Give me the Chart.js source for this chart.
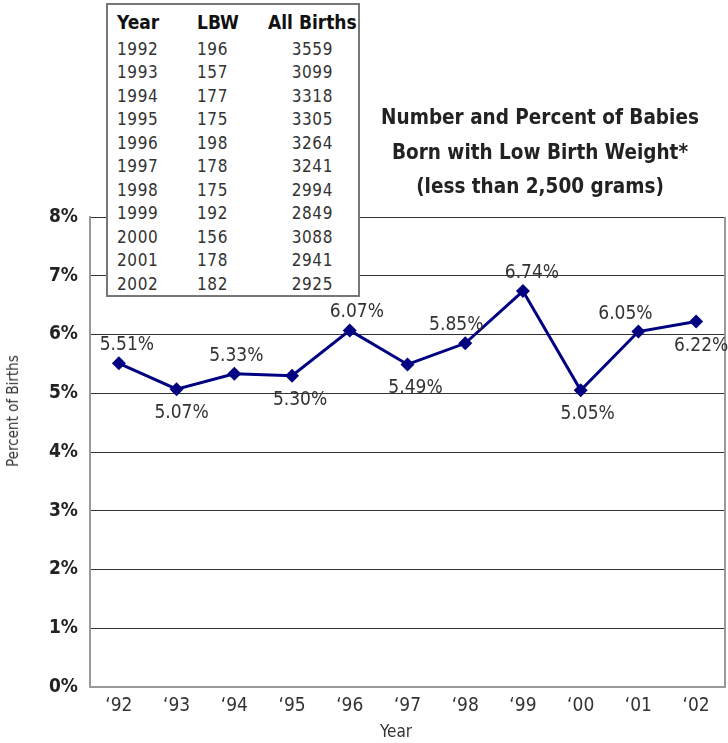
<!DOCTYPE html>
<html>
<head>
<meta charset="utf-8">
<script src="https://cdn.jsdelivr.net/npm/chart.js@4.4.1/dist/chart.umd.min.js"></script>
<style>
  body { margin: 0; background: #fff; }
  #wrap { position: relative; width: 728px; height: 743px; font-family: 'Liberation Sans Narrow', 'DejaVu Sans Condensed', sans-serif; color: #222; }
  #chart { position: absolute; left: 0; top: 0; }
  #dataTable { position: absolute; left: 106px; top: 3px; width: 254px; height: 294px; box-sizing: border-box; border: 2px solid #777; background: #fff; }
  #dataTable table { border-collapse: collapse; margin: 1px 0 0 9px; }
  #dataTable th { font-weight: bold; font-size: 19px; height: 31px; padding: 0; text-align: left; color: #111; white-space: nowrap; }
  #dataTable td { font-size: 17px; letter-spacing: 0.6px; height: 23.5px; padding: 0; line-height: 20px; color: #333; }
  #title { position: absolute; left: 360px; top: 100px; width: 360px; text-align: center; font-weight: bold; font-size: 20.5px; line-height: 34.5px; color: #222; }
  #yTitle { position: absolute; left: 13px; top: 411px; transform: translate(-50%, -50%) rotate(-90deg); font-size: 15px; white-space: nowrap; color: #333; }
  #xTitle { position: absolute; left: 396px; top: 731px; transform: translate(-50%, -50%); font-size: 17px; color: #333; }
</style>
</head>
<body>
<div id="wrap">
  <canvas id="chart" width="728" height="743"></canvas>
  <div id="dataTable"><table id="tbl"></table></div>
  <div id="title">Number and Percent of Babies<br>Born with Low Birth Weight*<br>(less than 2,500 grams)</div>
  <div id="yTitle">Percent of Births</div>
  <div id="xTitle">Year</div>
</div>
<script>
'use strict';

// chart data
let yearLabels = ['‘92', '‘93', '‘94', '‘95', '‘96', '‘97', '‘98', '‘99', '‘00', '‘01', '‘02'];
let percentLbw = [5.51, 5.07, 5.33, 5.30, 6.07, 5.49, 5.85, 6.74, 5.05, 6.05, 6.22];

// table data
let tableYears = [1992, 1993, 1994, 1995, 1996, 1997, 1998, 1999, 2000, 2001, 2002];
let lbwCounts = [196, 157, 177, 175, 198, 178, 175, 192, 156, 178, 182];
let allBirths = [3559, 3099, 3318, 3305, 3264, 3241, 2994, 2849, 3088, 2941, 2925];

// where each value label sits
let labelSide = ['up', 'down', 'up', 'down', 'up', 'down', 'up', 'up', 'down', 'up', 'down'];
let labelShift = [8, 5, 2, 8, 7, 8, -9, 9, 7, -13, 5];

const FONT = "'Liberation Sans Narrow', 'DejaVu Sans Condensed', sans-serif";

// build the little table
let tbl = document.getElementById('tbl');
let head = '<tr><th style="width:80px">Year</th><th style="width:71px">LBW</th><th style="width:88px;text-align:center">All Births</th></tr>';
let rows = '';
for (let i = 0; i < tableYears.length; i++) {
  rows += '<tr><td>' + tableYears[i] + '</td><td>' + lbwCounts[i] + '</td><td style="text-align:center">' + allBirths[i] + '</td></tr>';
}
tbl.innerHTML = head + rows;

// value labels + right border of the plot
let valueLabels = {
  id: 'valueLabels',
  afterDatasetsDraw(chart) {
    let ctx = chart.ctx;
    let area = chart.chartArea;
    ctx.save();
    ctx.strokeStyle = '#999';
    ctx.lineWidth = 2;
    ctx.beginPath();
    ctx.moveTo(area.right, area.top);
    ctx.lineTo(area.right, area.bottom);
    ctx.stroke();

    ctx.font = '19px ' + FONT;
    ctx.fillStyle = '#333';
    ctx.textAlign = 'center';
    ctx.textBaseline = 'middle';
    let meta = chart.getDatasetMeta(0);
    meta.data.forEach(function (pt, i) {
      let dy = labelSide[i] === 'up' ? -18 : 24;
      ctx.fillText(percentLbw[i].toFixed(2) + '%', pt.x + labelShift[i], pt.y + dy);
    });
    ctx.restore();
  }
};

let ctx = document.getElementById('chart').getContext('2d');

new Chart(ctx, { //eslint-disable-line
  type: 'line',
  data: {
    labels: yearLabels,
    datasets: [{
      data: percentLbw,
      borderColor: '#000080',
      backgroundColor: '#000080',
      borderWidth: 3,
      pointStyle: 'rectRot',
      pointRadius: 7,
      pointBorderWidth: 0,
      tension: 0,
      clip: false
    }]
  },
  options: {
    responsive: false,
    animation: false,
    layout: { autoPadding: false, padding: { top: 217, right: 3, bottom: 0, left: 0 } },
    plugins: {
      legend: { display: false },
      tooltip: { enabled: false }
    },
    scales: {
      x: {
        offset: true,
        grid: { display: false },
        border: { color: '#999', width: 2 },
        ticks: { color: '#333', font: { family: FONT, size: 19 }, padding: 0, maxRotation: 0 },
        afterFit(scale) {
          scale.height = 56;
          scale.paddingLeft = 0;
          scale.paddingRight = 0;
        }
      },
      y: {
        min: 0,
        max: 8,
        grid: { color: '#333', lineWidth: 1, drawTicks: false },
        border: { color: '#999', width: 2 },
        ticks: {
          stepSize: 1,
          padding: 12,
          color: '#222',
          font: { family: FONT, size: 19, weight: 'bold' },
          callback: function (v) { return v + '%'; }
        },
        afterFit(scale) { scale.width = 90; }
      }
    }
  },
  plugins: [valueLabels]
});
</script>
</body>
</html>
